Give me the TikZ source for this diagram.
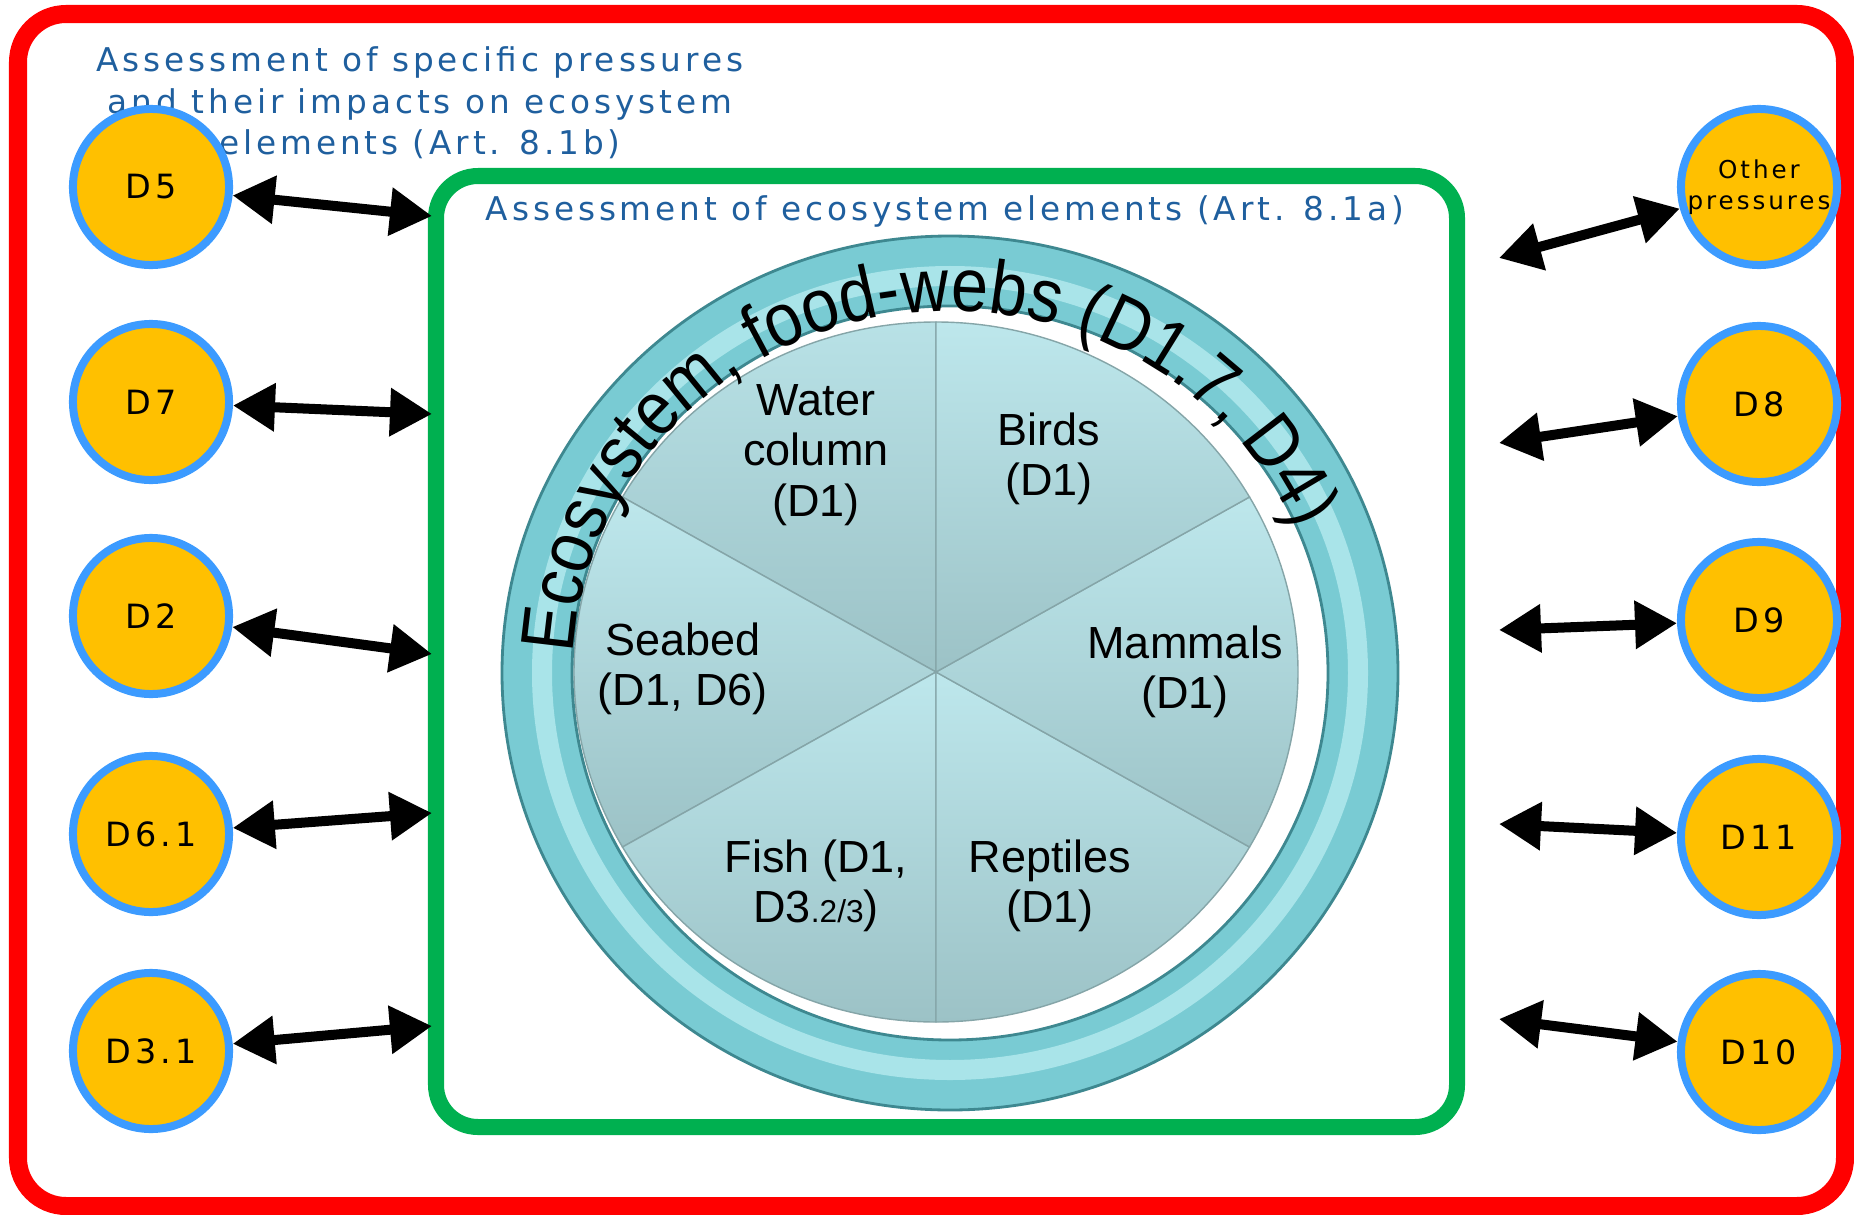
\documentclass[tikz,border=0pt]{standalone}
\usepackage{fontspec}
\setmainfont{Liberation Sans}
\newfontfamily\labelfont[LetterSpace=12]{DejaVu Sans}
\newfontfamily\ringfont[FakeStretch=0.88]{Liberation Sans}
\usetikzlibrary{arrows.meta,decorations.text,calc}

\definecolor{framered}{HTML}{FF0000}
\definecolor{boxgreen}{HTML}{00B050}
\definecolor{titleblue}{HTML}{1F5F9E}
\definecolor{discfill}{HTML}{FFC000}
\definecolor{discedge}{HTML}{3C9BFF}
\definecolor{ringteal}{HTML}{79CBD3}
\definecolor{ringlight}{HTML}{A9E4E9}
\definecolor{ringdark}{HTML}{3E8890}
\definecolor{pielight}{HTML}{BDE7EC}
\definecolor{piedark}{HTML}{9CC2C6}

\begin{document}
\begin{tikzpicture}[x=0.01cm,y=0.01cm,
  disc/.style={circle, draw=discedge, fill=discfill, line width=0.08cm,
    minimum size=1.56cm, inner sep=0pt, align=center,
    font=\labelfont\fontsize{9.5}{10}\selectfont},
  link/.style={{Triangle[length=0.42cm,width=0.46cm]}-{Triangle[length=0.42cm,width=0.46cm]},
    line width=0.1cm, black},
  sector/.style={top color=pielight, bottom color=piedark, draw=piedark!85!black, line width=0.4pt},
  piearc/.style={x radius=362, y radius=350},
  seclabel/.style={align=center, inner sep=0pt, font=\fontsize{12.8}{14.4}\selectfont},
  titletext/.style={align=center, inner sep=0pt, text=titleblue,
    font=\labelfont\fontsize{9.3}{11.8}\selectfont}]
  \useasboundingbox (0,0) rectangle (1854,-1215);

  % outer (red) and inner (green) frames
  \draw[framered, line width=0.18cm, rounded corners=0.48cm] (18,-14) rectangle (1845,-1206);
  \draw[boxgreen, line width=0.16cm, rounded corners=0.42cm] (436,-176) rectangle (1457,-1127);

  % frame titles
  \node[titletext] (outertitle) at (420,-103)
    {Assessment of specific pressures\\and their impacts on ecosystem\\elements (Art. 8.1b)};
  \node[titletext] (innertitle) at (945,-211) {Assessment of ecosystem elements (Art. 8.1a)};

  % pie of ecosystem elements
  \coordinate (P) at (936,-672);
  \shade[sector, top color=pielight!85!piedark] (P) -- ++(90:362 and 350)
    arc[start angle=90, end angle=150, piearc] -- cycle;
  \shade[sector] (P) -- ++(150:362 and 350) arc[start angle=150, end angle=210, piearc] -- cycle;
  \shade[sector] (P) -- ++(210:362 and 350) arc[start angle=210, end angle=270, piearc] -- cycle;
  \shade[sector] (P) -- ++(270:362 and 350) arc[start angle=270, end angle=330, piearc] -- cycle;
  \shade[sector] (P) -- ++(330:362 and 350) arc[start angle=330, end angle=390, piearc] -- cycle;
  \shade[sector] (P) -- ++(30:362 and 350) arc[start angle=30, end angle=90, piearc] -- cycle;

  % ring round the pie
  \coordinate (R) at (950,-673);
  \draw[ringteal, line width=0.7cm] (R) ellipse[x radius=413, y radius=402];
  \draw[ringlight, line width=0.2cm] (R) ellipse[x radius=408, y radius=397];
  \draw[ringdark, line width=0.8pt] (R) ellipse[x radius=448, y radius=437];
  \draw[ringdark, line width=0.8pt] (R) ellipse[x radius=378, y radius=367];

  % text along the ring
  \path[decorate, decoration={text along path, text align=left,
      text={|\ringfont\fontsize{21.5}{21.5}\selectfont|Ecosystem, food-webs (D1.7, D4)}}]
    ($(R)+(177:377 and 362)$) arc[start angle=177, end angle=0, x radius=377, y radius=362];

  % sector labels
  \node[seclabel] (water) at (816,-455) {Water\\column\\(D1)};
  \node[seclabel] (birds) at (1049,-459) {Birds\\(D1)};
  \node[seclabel] (seabed) at (683,-669) {Seabed\\(D1, D6)};
  \node[seclabel] (mammals) at (1185,-672) {Mammals\\(D1)};
  \node[seclabel] (fish) at (816,-886) {Fish (D1,\\D3{\fontsize{9}{9}\selectfont.2/3})};
  \node[seclabel] (reptiles) at (1050,-886) {Reptiles\\(D1)};

  % descriptors on the left
  \node[disc] (D5) at (151,-187) {D5};
  \node[disc] (D7) at (151,-402) {D7};
  \node[disc] (D2) at (151,-616) {D2};
  \node[disc] (D61) at (151,-834) {D6.1};
  \node[disc] (D31) at (151,-1051) {D3.1};

  % descriptors on the right
  \node[disc, font=\labelfont\fontsize{7}{8.8}\selectfont] (Dother) at (1759,-187) {Other\\pressures};
  \node[disc] (D8) at (1759,-404) {D8};
  \node[disc] (D9) at (1759,-620) {D9};
  \node[disc] (D11) at (1759,-837) {D11};
  \node[disc] (D10) at (1759,-1052) {D10};

  % arrow ends at the green frame
  \coordinate (e5) at (432,-216);
  \coordinate (e7) at (432,-414);
  \coordinate (e2) at (432,-654);
  \coordinate (e61) at (432,-813);
  \coordinate (e31) at (432,-1026);
  \coordinate (eo) at (1499,-258);
  \coordinate (e8) at (1499,-443);
  \coordinate (e9) at (1499,-630);
  \coordinate (e11) at (1499,-824);
  \coordinate (e10) at (1499,-1019);

  % two-way links
  \draw[link] (D5) -- (e5);
  \draw[link] (D7) -- (e7);
  \draw[link] (D2) -- (e2);
  \draw[link] (D61) -- (e61);
  \draw[link] (D31) -- (e31);
  \draw[link] (Dother) -- (eo);
  \draw[link] (D8) -- (e8);
  \draw[link] (D9) -- (e9);
  \draw[link] (D11) -- (e11);
  \draw[link] (D10) -- (e10);

\end{tikzpicture}
\end{document}
